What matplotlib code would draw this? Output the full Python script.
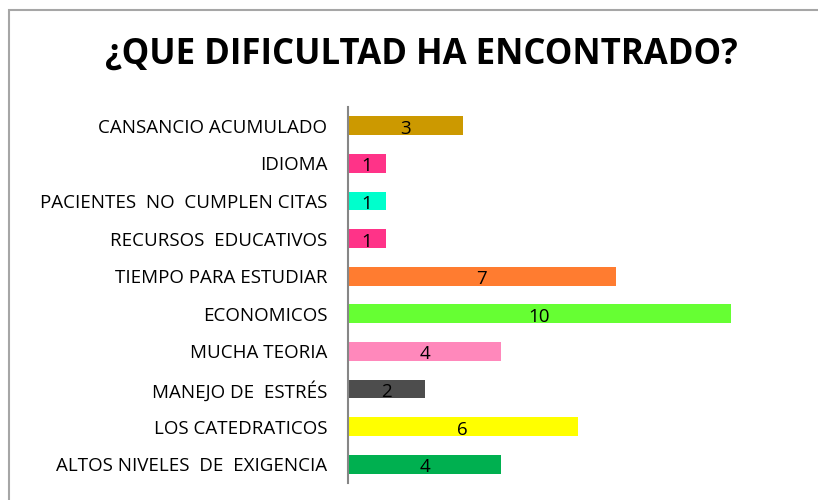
import matplotlib
import matplotlib.pyplot as plt
from matplotlib.patches import Rectangle

matplotlib.use('Agg')

categories = ['ALTOS NIVELES  DE  EXIGENCIA', 'LOS CATEDRATICOS', 'MANEJO DE  ESTRÉS',
              'MUCHA TEORIA', 'ECONOMICOS', 'TIEMPO PARA ESTUDIAR',
              'RECURSOS  EDUCATIVOS', 'PACIENTES  NO  CUMPLEN CITAS', 'IDIOMA',
              'CANSANCIO ACUMULADO']
values = [4, 6, 2, 4, 10, 7, 1, 1, 1, 3]
colors = ['#00B050', '#FFFF00', '#4D4D4D', '#FF88BB', '#66FF33', '#FF7C30',
          '#FF3388', '#00FFCC', '#FF3388', '#CC9900']

plt.rcParams['font.family'] = ['Open Sans', 'DejaVu Sans']

fig = plt.figure(figsize=(8.18, 5.0), dpi=100)
# chart frame (cut off at right and bottom like the original)
fig.patches.append(Rectangle((9 / 818, -0.1), 1.2, 1.1 - 10 / 500, transform=fig.transFigure,
                             fill=False, edgecolor='#A6A6A6', linewidth=1.5))

ax = fig.add_axes([348 / 818, 1 - 483 / 500, (807 - 348) / 818, (483 - 107) / 500])
y = range(len(categories))
ax.barh(y, values, height=0.5, color=colors)
for yi, v in zip(y, values):
    ax.text(v / 2, yi - 0.08, str(v), ha='center', va='center', fontsize=13.5, color='black')

ax.set_xlim(0, 12)
ax.set_ylim(-0.5, len(categories) - 0.5)
ax.set_yticks(list(y))
ax.set_yticklabels(categories, fontsize=13.5)
ax.tick_params(axis='y', length=0, pad=15)
ax.set_xticks([])
for s in ['top', 'right', 'bottom']:
    ax.spines[s].set_visible(False)
ax.spines['left'].set_color('#868686')
ax.spines['left'].set_linewidth(1.5)

fig.text(0.515, 1 - 55 / 500, '¿QUE DIFICULTAD HA ENCONTRADO?', ha='center', va='center',
         fontsize=25, fontweight='bold', fontstretch='condensed')

fig.savefig('out.png', dpi=100)
